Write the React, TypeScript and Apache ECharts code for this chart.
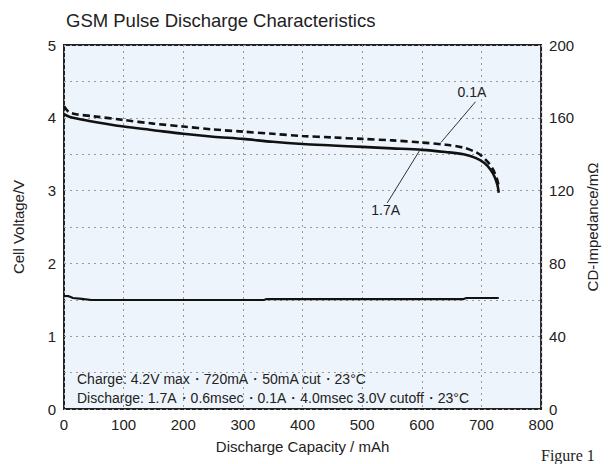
import React, { useEffect, useRef } from "react";
import * as echarts from "echarts";

const titleText = "GSM Pulse Discharge Characteristics";

// 1.7A discharge curve (solid)
const cap17 = [0, 10, 40, 100, 150, 200, 250, 300, 350, 400, 450, 500, 550, 600, 640, 670, 690, 705, 715, 722, 727, 729];
const volt17 = [4.05, 4.01, 3.96, 3.88, 3.83, 3.78, 3.74, 3.71, 3.67, 3.64, 3.62, 3.6, 3.58, 3.56, 3.53, 3.5, 3.45, 3.38, 3.29, 3.19, 3.07, 2.97];

// 0.1A discharge curve (dashed)
const cap01 = [0, 8, 20, 50, 100, 150, 200, 250, 300, 350, 400, 450, 500, 550, 600, 640, 670, 690, 700, 712, 720, 726, 729];
const volt01 = [4.16, 4.08, 4.05, 4.02, 3.97, 3.92, 3.88, 3.84, 3.81, 3.78, 3.75, 3.73, 3.71, 3.69, 3.66, 3.63, 3.59, 3.53, 3.48, 3.38, 3.28, 3.16, 3.06];

// CD impedance (right axis)
const capImp = [0, 8, 15, 30, 46, 335, 340, 670, 675, 729];
const impValues = [62.1, 62, 61, 60.5, 59.9, 59.9, 60.4, 60.4, 61, 61];

// annotation leader lines
const lead01 = [[632, 3.66], [690, 4.22]];
const lead17 = [[597, 3.56], [542, 2.83]];

const chargeNote = "Charge: 4.2V max・720mA・50mA cut・23°C";
const dischargeNote = "Discharge: 1.7A・0.6msec・0.1A・4.0msec 3.0V cutoff・23°C";

const FONT = "'Liberation Sans', Arial, sans-serif";

export default function App() {
  const ref = useRef<HTMLDivElement>(null);
  useEffect(() => {
    document.body.style.margin = "0";
    if (!ref.current) return;
    const chart = echarts.init(ref.current, null, { renderer: "svg" });
    const zip = (a: number[], b: number[]) => a.map((v, i) => [v, b[i]]);
    chart.setOption({
      animation: false,
      textStyle: { fontFamily: FONT },
      title: {
        text: titleText,
        left: 61,
        top: 6,
        textStyle: { fontSize: 18.5, fontWeight: "normal", color: "#222", fontFamily: FONT },
      },
      grid: {
        left: 64,
        right: 60,
        top: 45,
        bottom: 55,
        show: true,
        backgroundColor: "#EEF4FB",
        borderColor: "#222",
        borderWidth: 2,
      },
      xAxis: {
        type: "value",
        min: 0,
        max: 800,
        interval: 100,
        name: "Discharge Capacity / mAh",
        nameLocation: "middle",
        nameGap: 30,
        nameTextStyle: { fontSize: 15, color: "#222" },
        axisLine: { show: false },
        axisTick: { show: false },
        axisLabel: { fontSize: 15, color: "#222", margin: 8 },
        splitLine: { show: true, lineStyle: { color: "#999", type: [2, 4], width: 1 } },
      },
      yAxis: [
        {
          type: "value",
          min: 0,
          max: 5,
          interval: 0.5,
          name: "Cell Voltage/V",
          nameLocation: "middle",
          nameGap: 38,
          nameTextStyle: { fontSize: 15, color: "#222" },
          axisLine: { show: false },
          axisTick: { show: false },
          axisLabel: {
            fontSize: 15,
            color: "#222",
            margin: 8,
            formatter: (v: number) => (Number.isInteger(v) ? String(v) : ""),
          },
          splitLine: { show: true, lineStyle: { color: "#999", type: [2, 4], width: 1 } },
        },
        {
          type: "value",
          min: 0,
          max: 200,
          interval: 40,
          position: "right",
          name: "CD-Impedance/mΩ",
          nameLocation: "middle",
          nameGap: 40,
          nameRotate: 90,
          nameTextStyle: { fontSize: 15, color: "#222" },
          axisLine: { show: false },
          axisTick: { show: false },
          axisLabel: { fontSize: 15, color: "#222", margin: 8 },
          splitLine: { show: false },
        },
      ],
      series: [
        {
          name: "0.1A",
          type: "line",
          data: zip(cap01, volt01),
          smooth: 0.3,
          showSymbol: false,
          lineStyle: { color: "#111", width: 2.6, type: [7, 4] },
          z: 3,
        },
        {
          name: "1.7A",
          type: "line",
          data: zip(cap17, volt17),
          smooth: 0.3,
          showSymbol: false,
          lineStyle: { color: "#111", width: 2.6 },
          z: 3,
        },
        {
          name: "Impedance",
          type: "line",
          yAxisIndex: 1,
          data: zip(capImp, impValues),
          showSymbol: false,
          lineStyle: { color: "#111", width: 2.2 },
          z: 3,
        },
        {
          name: "lead01",
          type: "line",
          data: lead01,
          symbol: "none",
          lineStyle: { color: "#333", width: 1 },
          endLabel: {
            show: true,
            formatter: "0.1A",
            fontSize: 14,
            color: "#222",
            offset: [-26, -10],
          },
          z: 4,
        },
        {
          name: "lead17",
          type: "line",
          data: lead17,
          symbol: "none",
          lineStyle: { color: "#333", width: 1 },
          endLabel: {
            show: true,
            formatter: "1.7A",
            fontSize: 14,
            color: "#222",
            offset: [-24, 7],
          },
          z: 4,
        },
      ],
      graphic: [
        {
          type: "text",
          left: 77,
          top: 372,
          style: { text: chargeNote, fontSize: 14, fill: "#222", fontFamily: FONT },
        },
        {
          type: "text",
          left: 77,
          top: 391,
          style: { text: dischargeNote, fontSize: 14, fill: "#222", fontFamily: FONT },
        },
        {
          type: "text",
          left: 541,
          top: 447,
          style: { text: "Figure 1", fontSize: 16, fill: "#222", fontFamily: "'Liberation Serif', 'DejaVu Serif', serif" },
        },
      ],
    });
    return () => chart.dispose();
  }, []);
  return <div ref={ref} style={{ width: 608, height: 464 }} />;
}
